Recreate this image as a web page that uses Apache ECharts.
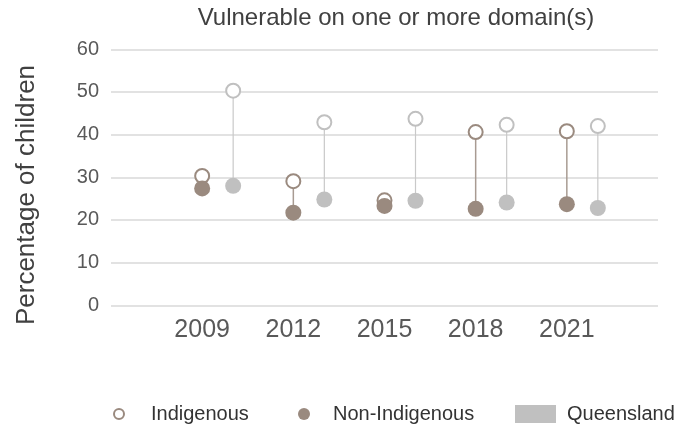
<!DOCTYPE html>
<html>
<head>
<meta charset="utf-8">
<script src="https://cdn.jsdelivr.net/npm/echarts@6/dist/echarts.min.js"></script>
<style>
  html, body { margin: 0; padding: 0; background: #fff; }
  #chart { width: 684px; height: 430px; }
</style>
</head>
<body>
<div id="chart"></div>
<script>
// Survey years shown on the horizontal axis
const years = ['2009', '2012', '2015', '2018', '2021'];
// Percentage of children vulnerable on one or more domain(s)
const regionIndigenous = [30.3, 29.1, 24.6, 40.6, 40.8];
const regionNonIndigenous = [27.4, 21.7, 23.3, 22.6, 23.7];
const qldIndigenous = [50.3, 42.9, 43.7, 42.3, 42.0];
const qldNonIndigenous = [28.0, 24.8, 24.5, 24.1, 22.8];
// Value axis ticks
const yTicks = [0, 10, 20, 30, 40, 50, 60];

const BROWN = '#9a8a7f';
const BROWN_LINE = '#a89b92';
const GREY = '#c0c0c0';
const GREY_LINE = '#c9c9c9';
const FONT = 'Liberation Sans, Arial, sans-serif';
const QLD_SHIFT = 0.34; // Queensland markers sit just right of each year

const chart = echarts.init(document.getElementById('chart'), null, { renderer: 'canvas' });

function linkSeries(xShift, top, bottom, color, width) {
  return {
    type: 'custom',
    silent: true,
    z: 1,
    data: years.map((_, i) => [i + xShift, top[i], bottom[i]]),
    encode: { x: 0, y: [1, 2] },
    renderItem: function (params, api) {
      const a = api.coord([api.value(0), api.value(1)]);
      const b = api.coord([api.value(0), api.value(2)]);
      return {
        type: 'line',
        shape: { x1: a[0], y1: a[1], x2: b[0], y2: b[1] },
        style: { stroke: color, lineWidth: width }
      };
    }
  };
}

const hollowStyle = (c) => ({ color: '#fff', borderColor: c, borderWidth: 2, opacity: 1 });
const legendText = (gap) => ({
  fontFamily: FONT, fontSize: 20, color: '#333', padding: [0, 0, 0, gap]
});

const option = {
  animation: false,
  title: {
    text: 'Vulnerable on one or more domain(s)',
    left: 391,
    textAlign: 'center',
    top: 1,
    textStyle: { fontFamily: FONT, fontSize: 24, fontWeight: 'normal', color: '#404040' }
  },
  grid: { left: 111, right: 26, top: 49.3, bottom: 124.7 },
  xAxis: {
    type: 'value',
    min: -1,
    max: 5,
    interval: 1,
    axisLine: { show: false },
    axisTick: { show: false },
    splitLine: { show: false },
    axisLabel: {
      margin: 12,
      showMinLabel: true,
      showMaxLabel: true,
      fontFamily: FONT,
      fontSize: 25,
      color: '#595959',
      formatter: (v) => (years[v] !== undefined ? years[v] : '')
    }
  },
  yAxis: {
    type: 'value',
    min: yTicks[0],
    max: yTicks[yTicks.length - 1],
    interval: yTicks[1] - yTicks[0],
    axisLine: { show: false },
    axisTick: { show: false },
    splitLine: { lineStyle: { color: '#d9d9d9', width: 1.5 } },
    axisLabel: { margin: 12, fontFamily: FONT, fontSize: 20, color: '#595959' }
  },
  graphic: [{
    type: 'text',
    x: 27,
    y: 195,
    rotation: Math.PI / 2,
    style: {
      text: 'Percentage of children',
      fontFamily: FONT,
      fontSize: 26,
      fill: '#404040',
      align: 'center',
      verticalAlign: 'middle'
    }
  }],
  legend: [
    {
      data: [{ name: 'Indigenous', icon: 'circle', itemStyle: hollowStyle(BROWN) }],
      left: 108, top: 399,
      itemWidth: 10, itemHeight: 10,
      textStyle: legendText(22)
    },
    {
      data: [{ name: 'Non-Indigenous', icon: 'circle', itemStyle: { color: BROWN } }],
      left: 293, top: 399,
      itemWidth: 12, itemHeight: 12,
      textStyle: legendText(18)
    },
    {
      data: [{ name: 'Queensland', icon: 'rect', itemStyle: { color: GREY } }],
      left: 510, top: 399,
      itemWidth: 41, itemHeight: 18,
      symbolKeepAspect: false,
      textStyle: legendText(6)
    }
  ],
  series: [
    linkSeries(0, regionIndigenous, regionNonIndigenous, BROWN_LINE, 1.5),
    linkSeries(QLD_SHIFT, qldIndigenous, qldNonIndigenous, GREY_LINE, 1.2),
    {
      name: 'Indigenous',
      type: 'scatter',
      z: 2,
      symbol: 'circle',
      symbolSize: 14,
      itemStyle: hollowStyle(BROWN),
      data: regionIndigenous.map((v, i) => [i, v])
    },
    {
      name: 'Non-Indigenous',
      type: 'scatter',
      z: 2,
      symbol: 'circle',
      symbolSize: 16,
      itemStyle: { color: BROWN, opacity: 1 },
      data: regionNonIndigenous.map((v, i) => [i, v])
    },
    {
      name: 'Queensland',
      type: 'scatter',
      z: 2,
      symbol: 'circle',
      itemStyle: { color: GREY, opacity: 1 },
      data: qldIndigenous.map((v, i) => ({
        value: [i + QLD_SHIFT, v],
        symbolSize: 14,
        itemStyle: hollowStyle(GREY)
      })).concat(qldNonIndigenous.map((v, i) => ({
        value: [i + QLD_SHIFT, v],
        symbolSize: 16
      })))
    }
  ]
};

chart.setOption(option);
</script>
</body>
</html>
